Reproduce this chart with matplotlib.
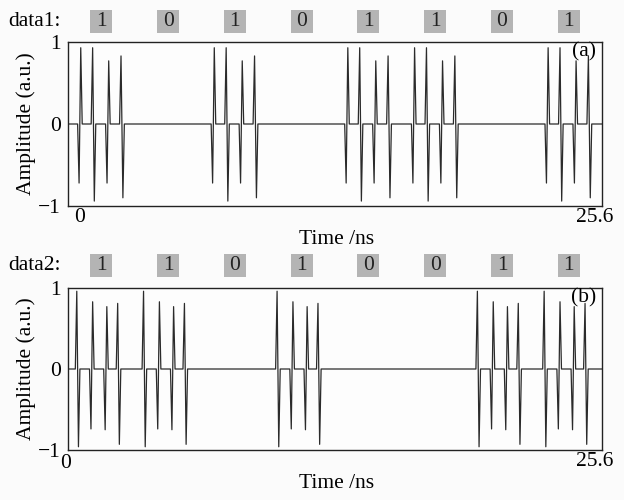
import numpy as np
import matplotlib
matplotlib.use('Agg')
import matplotlib.pyplot as plt
from matplotlib.patches import Rectangle
from matplotlib.transforms import blended_transform_factory

plt.rcParams['font.family'] = ['Liberation Serif', 'DejaVu Serif']
plt.rcParams['font.size'] = 15.5

# bit sequences for the two channels
bits1 = [1, 0, 1, 0, 1, 1, 0, 1]
bits2 = [1, 1, 0, 1, 0, 0, 1, 1]
bit_period = 3.2      # ns
t_end = 25.6          # ns

# pulse pairs inside one '1' bit: (time ns, amplitude) for each spike of a doublet
pairs1 = [((0.53, -0.72), (0.61, 0.93)),
          ((1.18, 0.93), (1.26, -0.94)),
          ((1.87, -0.72), (1.95, 0.77)),
          ((2.54, 0.83), (2.63, -0.90))]
pairs2 = [((0.42, 0.96), (0.50, -0.96)),
          ((1.10, -0.74), (1.18, 0.83)),
          ((1.78, -0.75), (1.86, 0.77)),
          ((2.38, 0.81), (2.46, -0.93))]

edge = 0.07  # rise from baseline to first spike of a doublet


def waveform(bits, pairs):
    ts, ys = [0.0], [0.0]
    for k, b in enumerate(bits):
        if not b:
            continue
        t0 = k * bit_period
        for (ta, aa), (tb, ab) in pairs:
            ts += [t0 + ta - edge, t0 + ta, t0 + tb, t0 + tb + edge]
            ys += [0.0, aa, ab, 0.0]
    ts.append(t_end)
    ys.append(0.0)
    return np.array(ts), np.array(ys)


fig = plt.figure(figsize=(6.24, 5.0), dpi=100)
fig.patch.set_facecolor('#fbfbfb')

panels = [
    dict(bits=bits1, pairs=pairs1, rect=[0.109, 0.588, 0.856, 0.328],
         name='data1:', tag='(a)', box_y=0.957, zero_dx=12, zero_dy=-11),
    dict(bits=bits2, pairs=pairs2, rect=[0.109, 0.100, 0.856, 0.324],
         name='data2:', tag='(b)', box_y=0.469, zero_dx=-2, zero_dy=-13),
]

for p in panels:
    ax = fig.add_axes(p['rect'])
    ax.set_facecolor('#fdfdfd')
    t, y = waveform(p['bits'], p['pairs'])
    ax.plot(t, y, color='#2b2b2b', lw=0.9)
    ax.set_xlim(0, t_end)
    ax.set_ylim(-1, 1)
    ax.set_xticks([])
    ax.set_yticks([-1, 0, 1])
    ax.set_yticklabels(['\u22121', '0', '1'])
    ax.tick_params(axis='y', length=0, pad=5)
    for s in ax.spines.values():
        s.set_linewidth(1.0)
        s.set_color('#222222')
    ax.set_ylabel('Amplitude (a.u.)', labelpad=2)

    # x-axis end labels and title
    ax.annotate('0', xy=(0, 0), xycoords='axes fraction',
                xytext=(p['zero_dx'], p['zero_dy']), textcoords='offset pixels',
                ha='center', va='center')
    ax.annotate('25.6', xy=(1, 0), xycoords='axes fraction',
                xytext=(-7, -11), textcoords='offset pixels',
                ha='center', va='center')
    ax.annotate('Time /ns', xy=(0.5, 0), xycoords='axes fraction',
                xytext=(1, -33), textcoords='offset pixels',
                ha='center', va='center')
    ax.text(0.988, 0.94, p['tag'], transform=ax.transAxes, ha='right', va='center')

    # bit labels above the panel
    tr = blended_transform_factory(ax.transData, fig.transFigure)
    bw = 22 / 624 * 1 / 0.856 * t_end
    bh = 23 / 500
    for k, b in enumerate(p['bits']):
        xc = (k + 0.5) * bit_period
        fig.add_artist(Rectangle((xc - bw / 2, p['box_y'] - bh / 2), bw, bh,
                                 transform=tr, facecolor='#b4b4b4',
                                 edgecolor='none', clip_on=False))
        fig.text(xc, p['box_y'], str(b), transform=tr, ha='center', va='center',
                 color='#222222')
    fig.text(0.013, p['box_y'], p['name'], ha='left', va='center')

fig.savefig('out.png', dpi=100, facecolor=fig.get_facecolor())
